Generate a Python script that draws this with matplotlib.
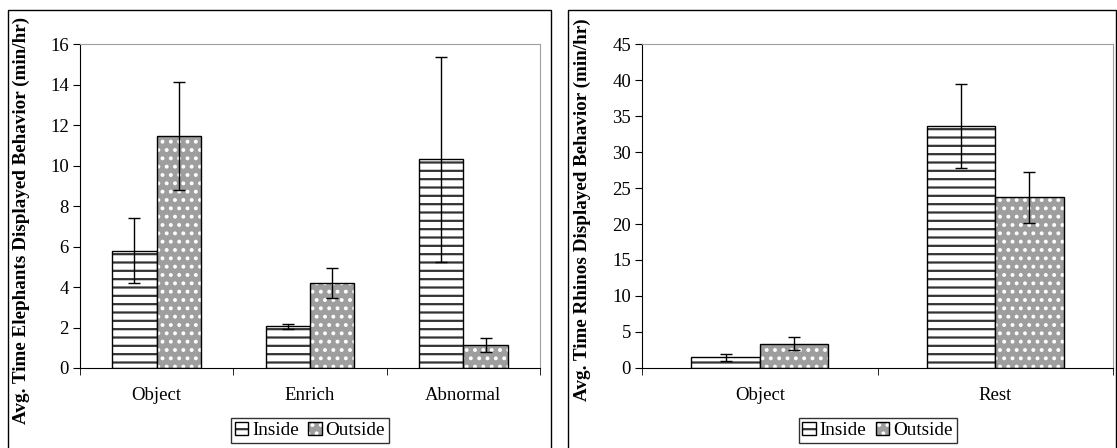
import matplotlib
matplotlib.use("Agg")
import matplotlib.pyplot as plt
from matplotlib.patches import Rectangle, Patch
import numpy as np

# elephant panel
ele_cats = ["Object", "Enrich", "Abnormal"]
ele_inside = [5.8, 2.05, 10.3]
ele_inside_err = [1.6, 0.13, 5.05]
ele_outside = [11.45, 4.2, 1.15]
ele_outside_err = [2.65, 0.72, 0.35]
ele_ylabel = "Avg. Time Elephants Displayed Behavior (min/hr)"
ele_yticks = [0, 2, 4, 6, 8, 10, 12, 14, 16]

# rhino panel
rhi_cats = ["Object", "Rest"]
rhi_inside = [1.5, 33.6]
rhi_inside_err = [0.5, 5.85]
rhi_outside = [3.4, 23.7]
rhi_outside_err = [0.95, 3.55]
rhi_ylabel = "Avg. Time Rhinos Displayed Behavior (min/hr)"
rhi_yticks = [0, 5, 10, 15, 20, 25, 30, 35, 40, 45]

series_names = ["Inside", "Outside"]

plt.rcParams["font.family"] = ["Liberation Serif", "DejaVu Serif"]
plt.rcParams["hatch.linewidth"] = 1.6
W, H = 1117, 448
fig = plt.figure(figsize=(W / 100, H / 100), dpi=100)

grey = "#9e9e9e"
bw = 0.29


def panel(rect, cats, ins, ins_err, outs, outs_err, ylabel, yticks, lab_xy):
    ax = fig.add_axes(rect)
    x = np.arange(len(cats))
    # inside: white with horizontal lines
    ax.bar(x - bw / 2, ins, bw, facecolor="white", edgecolor="#333333",
           hatch="--", lw=0)
    ax.bar(x - bw / 2, ins, bw, facecolor="none", edgecolor="black", lw=1)
    # outside: grey with white dots
    ax.bar(x + bw / 2, outs, bw, facecolor=grey, edgecolor="white",
           hatch="..", lw=0)
    ax.bar(x + bw / 2, outs, bw, facecolor="none", edgecolor="black", lw=1)
    ax.errorbar(x - bw / 2, ins, yerr=ins_err, fmt="none", ecolor="black",
                elinewidth=1, capsize=4, capthick=1)
    ax.errorbar(x + bw / 2, outs, yerr=outs_err, fmt="none", ecolor="black",
                elinewidth=1, capsize=4, capthick=1)

    ax.set_xlim(-0.5, len(cats) - 0.5)
    ax.set_ylim(yticks[0], yticks[-1])
    ax.set_yticks(yticks)
    ax.set_xticks(x)
    ax.set_xticklabels(cats)
    ax.set_xticks(np.arange(len(cats) + 1) - 0.5, minor=True)
    ax.tick_params(axis="x", which="major", length=0, pad=14, labelsize=13.5)
    ax.tick_params(axis="x", which="minor", length=5, direction="out")
    ax.tick_params(axis="y", length=5, direction="out", pad=3, labelsize=13.5)
    for s in ["top", "right"]:
        ax.spines[s].set_color("#a0a0a0")
    ax.set_ylabel(ylabel, fontweight="bold", fontsize=13.8)
    ax.yaxis.set_label_coords(*lab_xy)

    h_in = (Patch(facecolor="white", edgecolor="#333333", hatch="--", lw=0),
            Patch(facecolor="none", edgecolor="black", lw=1))
    h_out = (Patch(facecolor=grey, edgecolor="white", hatch="..", lw=0),
             Patch(facecolor="none", edgecolor="black", lw=1))
    leg = ax.legend([h_in, h_out], series_names, loc="upper center",
                    bbox_to_anchor=(0.5, -0.155), ncol=2, frameon=True,
                    fancybox=False, edgecolor="black", fontsize=13.8,
                    handlelength=0.7, handleheight=0.7, handletextpad=0.2,
                    columnspacing=0.5, borderpad=0.2, borderaxespad=0)
    leg.get_frame().set_linewidth(1)
    return ax


def frac(px0, py0, px1, py1):
    return [px0 / W, 1 - py1 / H, (px1 - px0) / W, (py1 - py0) / H]


panel(frac(80, 44, 540, 368), ele_cats, ele_inside, ele_inside_err,
      ele_outside, ele_outside_err, ele_ylabel, ele_yticks, (-0.109, 0.455))
panel(frac(642, 44, 1113, 368), rhi_cats, rhi_inside, rhi_inside_err,
      rhi_outside, rhi_outside_err, rhi_ylabel, rhi_yticks, (-0.108, 0.49))

# chart area borders
for x0, x1 in [(8, 551), (568, 1116)]:
    fig.patches.append(Rectangle((x0 / W, -0.05), (x1 - x0) / W,
                                 1.05 - 10 / H, transform=fig.transFigure,
                                 fill=False, edgecolor="black", lw=1))

fig.savefig("out.png", dpi=100)
